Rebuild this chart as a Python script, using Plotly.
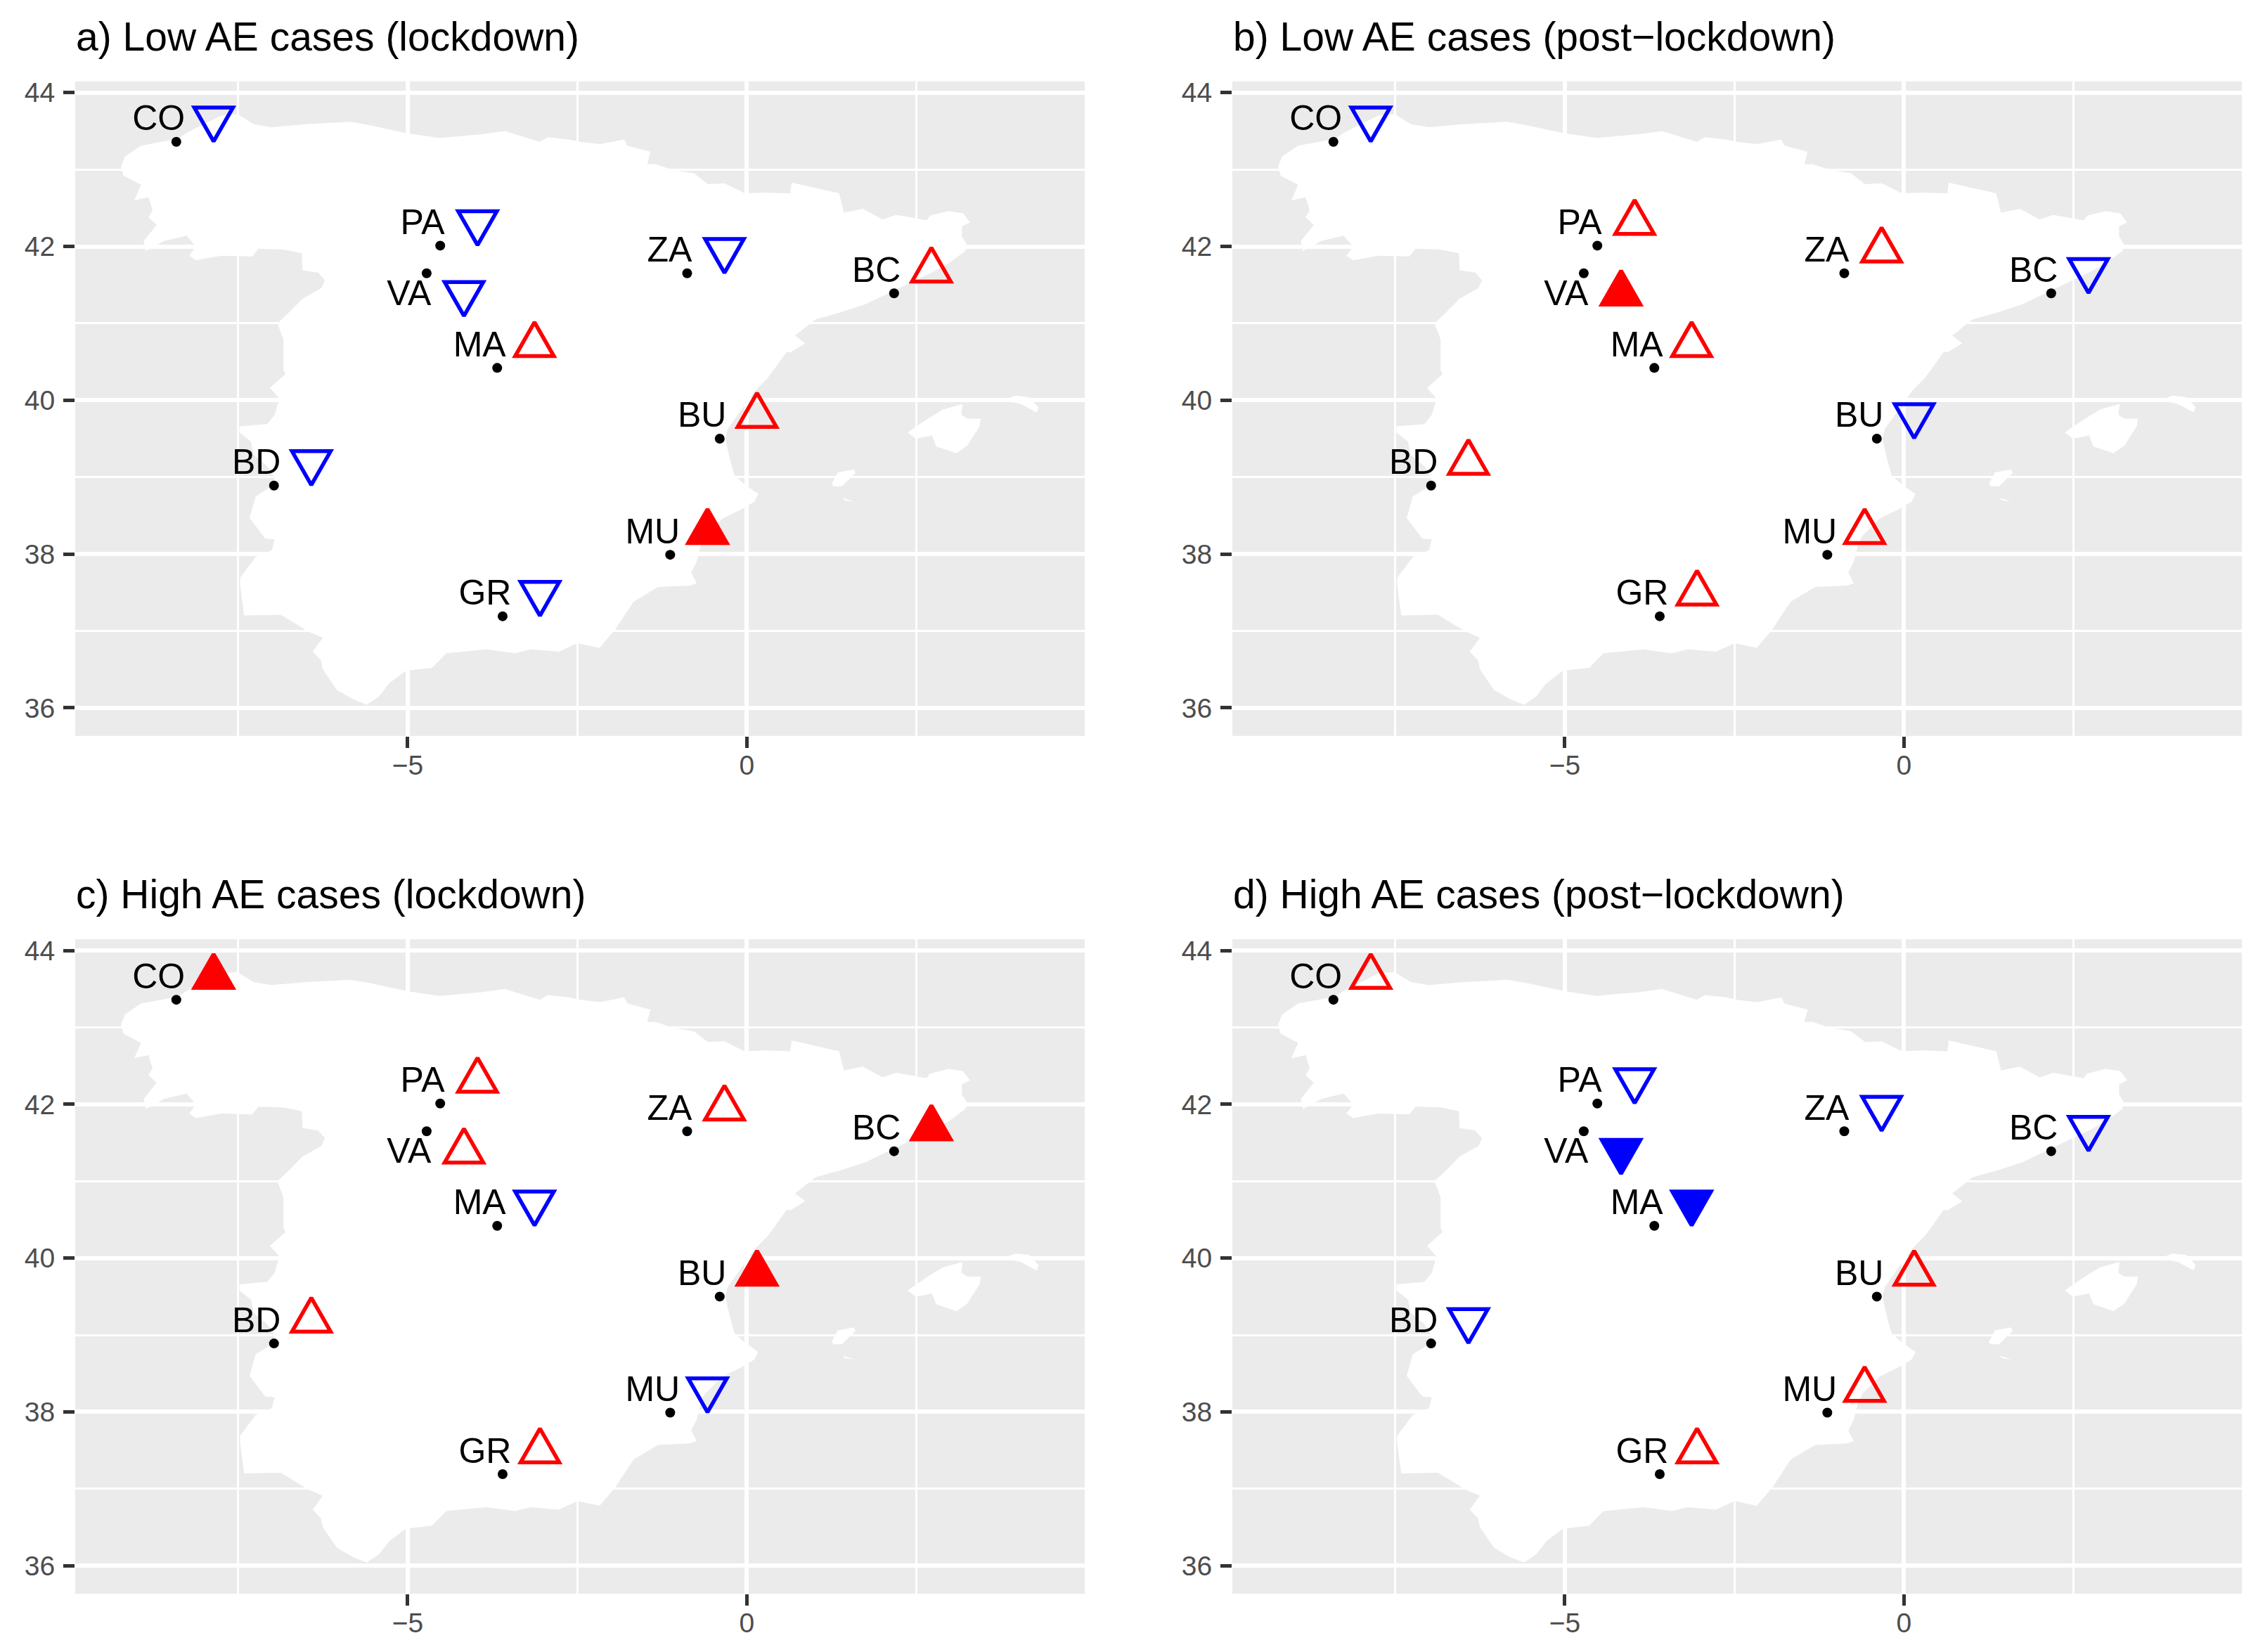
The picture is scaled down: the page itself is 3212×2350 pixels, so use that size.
import plotly.graph_objects as go

# ---------- data ----------
stations = ["CO", "PA", "VA", "ZA", "BC", "MA", "BU", "BD", "MU", "GR"]
station_lon = [-8.41, -4.52, -4.72, -0.88, 2.17, -3.68, -0.40, -6.97, -1.13, -3.60]
station_lat = [43.36, 42.01, 41.65, 41.65, 41.39, 40.42, 39.50, 38.89, 37.99, 37.19]
stations_annotated_below = ["VA"]

panel_titles = [
    "a) Low AE cases (lockdown)",
    "b) Low AE cases (post\u2212lockdown)",
    "c) High AE cases (lockdown)",
    "d) High AE cases (post\u2212lockdown)",
]
# +1 increase, -1 decrease
trend_a = [-1, -1, -1, -1, 1, 1, 1, -1, 1, -1]
trend_b = [-1, 1, 1, 1, -1, 1, -1, 1, 1, 1]
trend_c = [1, 1, 1, 1, 1, -1, 1, 1, -1, 1]
trend_d = [1, -1, -1, -1, -1, -1, 1, -1, 1, 1]
# 1 = significant (solid symbol)
signif_a = [0, 0, 0, 0, 0, 0, 0, 0, 1, 0]
signif_b = [0, 0, 1, 0, 0, 0, 0, 0, 0, 0]
signif_c = [1, 0, 0, 0, 1, 0, 1, 0, 0, 0]
signif_d = [0, 0, 1, 0, 0, 1, 0, 0, 0, 0]

x_ticks = [-5, 0]
x_minor_ticks = [-7.5, -2.5, 2.5]
y_ticks = [36, 38, 40, 42, 44]
y_minor_ticks = [37, 39, 41, 43]

mainland_lon = [-9.225, -9.165, -8.93, -8.59, -8.38, -8.25, -7.75, -7.51, -7.27, -7.01, -6.48, -5.85, -5.58, -5.0,
                -4.53, -3.89, -3.57, -3.05, -2.94, -2.62, -2.46, -2.16, -1.81, -1.76, -1.42, -1.47, -1.35, -1.07,
                -0.78, -0.575, -0.33, -0.03, 0.27, 0.64, 0.66, 1.36, 1.43, 1.71, 2.0, 2.2, 2.65, 2.70, 2.97, 3.19,
                3.29, 3.17, 3.17, 3.24, 3.22, 2.99, 2.75, 2.25, 1.755, 1.41, 1.01, 0.71, 0.86, 0.64, 0.59, 0.31, 0.13,
                -0.28, -0.32, -0.24, -0.18, -0.04, 0.17, 0.11, -0.08, -0.36, -0.62, -0.68, -0.74, -0.82, -0.74, -0.84,
                -1.31, -1.67, -1.94, -2.17, -2.5, -2.77, -3.19, -3.42, -3.84, -4.43, -4.64, -5.03, -5.27, -5.42, -5.6,
                -5.8, -6.04, -6.25, -6.28, -6.4, -6.25, -6.46, -6.87, -7.41, -7.47, -7.47, -7.24, -7.0, -6.96, -7.10,
                -7.33, -7.24, -7.0, -6.96, -7.07, -7.27, -7.31, -7.48, -7.48, -7.07, -6.96, -6.89, -7.03, -6.80, -6.83,
                -6.83, -6.92, -6.74, -6.55, -6.27, -6.22, -6.32, -6.55, -6.56, -6.83, -7.2, -7.29, -7.75, -8.12, -8.22,
                -8.12, -8.26, -8.59, -8.86, -8.89, -8.7, -8.82, -8.76, -8.82, -9.03, -8.93, -9.19, -9.225]
mainland_lat = [43.04, 43.17, 43.31, 43.37, 43.40, 43.48, 43.70, 43.72, 43.59, 43.55, 43.59, 43.62, 43.58, 43.47,
                43.41, 43.46, 43.50, 43.36, 43.42, 43.39, 43.36, 43.33, 43.39, 43.31, 43.23, 43.07, 43.07, 42.99,
                42.95, 42.81, 42.82, 42.69, 42.70, 42.69, 42.83, 42.69, 42.44, 42.49, 42.35, 42.41, 42.34, 42.40, 42.46, 42.43,
                42.31, 42.26, 42.13, 42.03, 41.94, 41.79, 41.67, 41.46, 41.25, 41.15, 41.05, 40.84, 40.74, 40.62, 40.63, 40.29, 40.13,
                39.63, 39.50, 39.20, 39.02, 38.91, 38.78, 38.68, 38.58, 38.46, 38.23, 38.11, 37.90, 37.76, 37.62, 37.59,
                37.57, 37.38, 37.02, 36.78, 36.84, 36.73, 36.76, 36.71, 36.76, 36.71, 36.52, 36.48, 36.32, 36.15, 36.04,
                36.11, 36.23, 36.50, 36.62, 36.73, 36.91, 36.99, 37.21, 37.20, 37.60, 37.69, 37.96, 38.05, 38.19, 38.20,
                38.47, 38.75, 38.88, 38.99, 39.14, 39.29, 39.46, 39.58, 39.66, 39.69, 39.81, 40.02, 40.16, 40.34, 40.39,
                40.79, 41.00, 41.15, 41.32, 41.46, 41.56, 41.66, 41.69, 41.91, 41.96, 41.97, 41.87, 41.88, 41.82, 41.88,
                42.00, 42.14, 42.07, 41.94, 42.07, 42.28, 42.38, 42.47, 42.64, 42.60, 42.80, 42.92, 43.04]
mallorca_lon = [2.37, 2.65, 2.89, 3.18, 3.16, 3.25, 3.45, 3.43, 3.25, 3.09, 2.79, 2.73, 2.49, 2.37]
mallorca_lat = [39.58, 39.75, 39.88, 39.95, 39.81, 39.76, 39.76, 39.66, 39.41, 39.31, 39.40, 39.54, 39.50, 39.58]
menorca_lon = [3.84, 3.96, 4.16, 4.30, 4.27, 4.04, 3.88, 3.84]
menorca_lat = [40.02, 40.06, 40.04, 39.91, 39.84, 39.95, 39.98, 40.02]
ibiza_lon = [1.25, 1.34, 1.58, 1.60, 1.40, 1.28, 1.25]
ibiza_lat = [38.91, 39.06, 39.10, 39.05, 38.88, 38.88, 38.91]
formentera_lon = [1.42, 1.58, 1.44, 1.42]
formentera_lat = [38.73, 38.68, 38.70, 38.73]

# ---------- layout ----------
W, H = 3212, 2350
PANELS = [(107, 1543, 111, 1044), (1753, 3189, 111, 1044),
          (107, 1543, 1334, 2267), (1753, 3189, 1334, 2267)]
X_RANGE = [-9.9, 4.98]
Y_RANGE = [35.635, 44.146]
RED, BLUE = "#FF0000", "#0000FF"
FONT = "Liberation Sans"

# offsets of labels/symbols from the station dot, in degrees
LABEL_DX, SYMBOL_DX, ROW_DY, BELOW_DY, TEXT_NUDGE = -0.26, 0.55, 0.30, -0.26, -0.035
# equilateral symbol drawn to the axes' scale (half width, height in degrees)
TRI_HALF_W, TRI_H = 0.285, 0.44

land_lon = mainland_lon + [None] + mallorca_lon + [None] + menorca_lon + [None] + ibiza_lon + [None] + formentera_lon
land_lat = mainland_lat + [None] + mallorca_lat + [None] + menorca_lat + [None] + ibiza_lat + [None] + formentera_lat

row_lat = [lat + (BELOW_DY if name in stations_annotated_below else ROW_DY)
           for name, lat in zip(stations, station_lat)]


def triangles(idx, trend):
    xs, ys = [], []
    for i in idx:
        cx = station_lon[i] + SYMBOL_DX
        cy = row_lat[i]
        d = trend[i]
        base = cy - d * TRI_H / 3
        tip = cy + d * TRI_H * 2 / 3
        xs += [cx - TRI_HALF_W, cx + TRI_HALF_W, cx, cx - TRI_HALF_W, cx + TRI_HALF_W, None]
        ys += [base, base, tip, base, base, None]
    return xs, ys


fig = go.Figure()
axis_style = dict(showline=False, zeroline=False, gridcolor="white", gridwidth=6,
                  ticks="outside", ticklen=16, tickwidth=5, tickcolor="#333333",
                  tickfont=dict(family=FONT, size=39, color="#4D4D4D"))
annotations = []
trends = [trend_a, trend_b, trend_c, trend_d]
signifs = [signif_a, signif_b, signif_c, signif_d]

for p, (x0, x1, y0, y1) in enumerate(PANELS):
    sfx = "" if p == 0 else str(p + 1)
    xa, ya = "x" + sfx, "y" + sfx
    fig.update_layout({
        "xaxis" + sfx: dict(domain=[x0 / W, x1 / W], range=X_RANGE, tickmode="array", tickvals=x_ticks,
                            minor=dict(tickvals=x_minor_ticks, showgrid=True, gridcolor="white", gridwidth=3, ticks=""),
                            anchor=ya, ticklabelstandoff=-9, **axis_style),
        "yaxis" + sfx: dict(domain=[1 - y1 / H, 1 - y0 / H], range=Y_RANGE, tickmode="array", tickvals=y_ticks,
                            minor=dict(tickvals=y_minor_ticks, showgrid=True, gridcolor="white", gridwidth=3, ticks=""),
                            anchor=xa, ticklabelstandoff=4, **axis_style),
    })
    fig.add_trace(go.Scatter(x=land_lon, y=land_lat, mode="lines", fill="toself", fillcolor="white",
                             line=dict(width=0, color="white"), hoverinfo="skip", xaxis=xa, yaxis=ya, name="Land"))
    fig.add_trace(go.Scatter(x=station_lon, y=station_lat, mode="markers", xaxis=xa, yaxis=ya, name="Stations",
                             marker=dict(color="black", size=14, line=dict(width=0))))
    fig.add_trace(go.Scatter(x=[v + LABEL_DX for v in station_lon], y=[v + TEXT_NUDGE for v in row_lat],
                             mode="text", text=stations, textposition="middle center", xaxis=xa, yaxis=ya, name="Labels",
                             textfont=dict(family=FONT, size=50, color="black")))
    tr, sg = trends[p], signifs[p]
    for d, colour in ((1, RED), (-1, BLUE)):
        for solid in (0, 1):
            idx = [i for i in range(len(stations)) if tr[i] == d and sg[i] == solid]
            if not idx:
                continue
            xs, ys = triangles(idx, tr)
            fig.add_trace(go.Scatter(x=xs, y=ys, mode="lines", xaxis=xa, yaxis=ya,
                                     fill="toself" if solid else "none",
                                     fillcolor=colour if solid else "rgba(0,0,0,0)",
                                     line=dict(color=colour, width=5.5),
                                     name=("Increase" if d > 0 else "Decrease") + (" (sig.)" if solid else "")))
    annotations.append(dict(text=panel_titles[p], xref="paper", yref="paper", x=x0 / W, y=1 - (y0 - 31) / H,
                            xanchor="left", yanchor="bottom", showarrow=False, borderpad=0,
                            font=dict(family=FONT, size=57, color="black")))

fig.update_layout(width=W, height=H, margin=dict(l=0, r=0, t=0, b=0), autosize=False,
                  paper_bgcolor="white", plot_bgcolor="#EBEBEB", showlegend=False,
                  annotations=annotations, font=dict(family=FONT))

fig.write_html("out.html", config={"displayModeBar": False},
               post_script="document.body.style.margin='0';")
